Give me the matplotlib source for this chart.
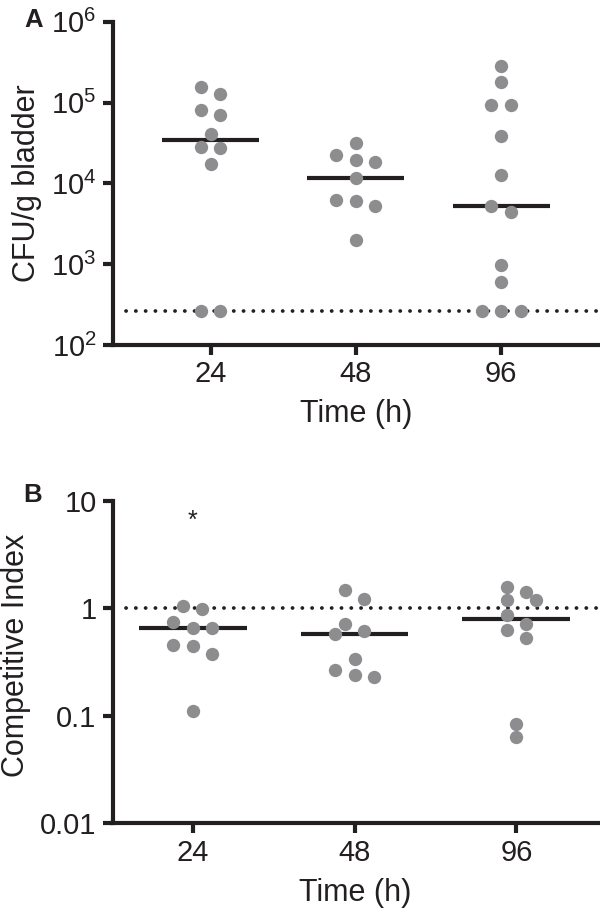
import math
import numpy as np
import matplotlib
matplotlib.use("Agg")
import matplotlib.pyplot as plt
from matplotlib.ticker import FixedLocator, FixedFormatter, NullLocator

# ---------------- data ----------------
hours = ["24", "48", "96"]

cfu_24 = [157000, 129000, 80000, 71000, 41000, 28000, 27700, 17400, 265, 265]
cfu_48 = [31600, 22600, 19400, 18500, 11800, 6300, 6100, 5300, 2000]
cfu_96 = [286000, 178000, 94000, 94000, 39000, 12800, 5300, 4400, 990, 610, 265, 265, 265]
detection_limit = 265

ci_24 = [1.06, 0.99, 0.75, 0.66, 0.65, 0.46, 0.45, 0.376, 0.11]
ci_48 = [1.49, 1.22, 0.72, 0.62, 0.57, 0.338, 0.265, 0.237, 0.228]
ci_96 = [1.59, 1.41, 1.19, 1.19, 0.87, 0.71, 0.63, 0.53, 0.0835, 0.064]
ci_reference = 1

cfu_ticks = [1e2, 1e3, 1e4, 1e5, 1e6]
cfu_ticklabels = [r"$\mathdefault{10^{2}}$", r"$\mathdefault{10^{3}}$", r"$\mathdefault{10^{4}}$",
                  r"$\mathdefault{10^{5}}$", r"$\mathdefault{10^{6}}$"]
ci_ticks = [0.01, 0.1, 1, 10]
ci_ticklabels = ["0.01", "0.1", "1", "10"]
significance_mark = "*"
significance_value = 6.5

# ---------------- style ----------------
plt.rcParams["font.family"] = ["Liberation Sans", "DejaVu Sans"]
plt.rcParams["mathtext.fontset"] = "custom"
plt.rcParams["mathtext.rm"] = "Liberation Sans"
plt.rcParams["mathtext.it"] = "Liberation Sans:italic"
plt.rcParams["mathtext.bf"] = "Liberation Sans:bold"
plt.rcParams["lines.scale_dashes"] = False

INK = "#231f20"
DOT = "#8d8d8f"
SPINE_W = 3.0
TICK_FS = 21
LABEL_FS = 22

fig = plt.figure(figsize=(6.0, 9.14), dpi=100)
axA = fig.add_axes([0.1875, 0.62254, 0.8125, 0.35372])
axB = fig.add_axes([0.1875, 0.09923, 0.80917, 0.35295])


def style_axis(ax):
    for s in ("top", "right"):
        ax.spines[s].set_visible(False)
    for s in ("left", "bottom"):
        ax.spines[s].set_linewidth(SPINE_W)
        ax.spines[s].set_color(INK)
        ax.spines[s].set_capstyle("projecting")
    ax.tick_params(axis="both", which="major", length=7.5, width=SPINE_W,
                   color=INK, labelcolor=INK, labelsize=TICK_FS)
    ax.tick_params(axis="x", pad=3.5)
    ax.tick_params(axis="y", pad=4)
    ax.yaxis.set_minor_locator(NullLocator())
    ax.xaxis.set_minor_locator(NullLocator())


def swarm_x(ax, xc, values, step_px=9.7, row_px=10.0, min_px=12.0):
    trans = ax.transData
    ys = [trans.transform((xc, v))[1] for v in values]
    px_per_x = trans.transform((1, 0))[0] - trans.transform((0, 0))[0]
    order = sorted(range(len(values)), key=lambda i: -ys[i])
    rows = []
    for i in order:
        if rows and abs(ys[rows[-1][0]] - ys[i]) < row_px:
            rows[-1].append(i)
        else:
            rows.append([i])
    placed = []
    slots = [0] * len(values)
    for row in rows:
        n = len(row)
        for k, i in enumerate(row):
            pref = 2 * k - (n - 1)
            cands = sorted(range(-12, 13), key=lambda s: (abs(s - pref), abs(s)))
            chosen = pref
            for s in cands:
                if all(math.hypot((s - ps) * step_px, ys[i] - py) >= min_px for ps, py in placed):
                    chosen = s
                    break
            slots[i] = chosen
            placed.append((chosen, ys[i]))
    return [xc + s * step_px / px_per_x for s in slots]


def draw_panel(ax, groups, ref_value, xlim, ylim, ticks, ticklabels):
    ax.set_yscale("log")
    ax.set_xlim(*xlim)
    ax.set_ylim(*ylim)
    style_axis(ax)
    ax.yaxis.set_major_locator(FixedLocator(ticks))
    ax.yaxis.set_major_formatter(FixedFormatter(ticklabels))
    ax.yaxis.set_minor_locator(NullLocator())
    ax.set_xticks(range(len(hours)))
    ax.set_xticklabels(hours)
    ax.axhline(ref_value, xmin=0.028, xmax=1.0, color=INK, linewidth=2.7,
               linestyle=(0, (0.1, 6.95)), dash_capstyle="round", zorder=1,
               clip_on=False)
    for xc, vals in enumerate(groups):
        med = float(np.median(vals))
        ax.plot([xc - 1 / 3, xc + 1 / 3], [med, med], color=INK, linewidth=3.0,
                solid_capstyle="butt", zorder=2)
        xs = swarm_x(ax, xc, vals)
        ax.plot(xs, vals, linestyle="none", marker="o", markersize=9.6,
                markerfacecolor=DOT, markeredgewidth=0, zorder=3, clip_on=False)


draw_panel(axA, [cfu_24, cfu_48, cfu_96], detection_limit,
           (-0.676, 2.681), (1e2, 1e6), cfu_ticks, cfu_ticklabels)
draw_panel(axB, [ci_24, ci_48, ci_96], ci_reference,
           (-0.495, 2.504), (1e-2, 1e1), ci_ticks, ci_ticklabels)

axB.text(0, significance_value, significance_mark, ha="center", va="center",
         fontsize=18, color=INK)

# labels
W, H = 600.0, 914.0
fig.text(26.8 / W, 1 - 183 / H, "CFU/g bladder", rotation=90, ha="center", va="center",
         fontsize=LABEL_FS, color=INK)
fig.text(16 / W, 1 - 655 / H, "Competitive Index", rotation=90, ha="center", va="center",
         fontsize=LABEL_FS, color=INK)
fig.text(356 / W, 1 - 414 / H, "Time (h)", ha="center", va="center",
         fontsize=LABEL_FS, color=INK)
fig.text(355 / W, 1 - 893 / H, "Time (h)", ha="center", va="center",
         fontsize=LABEL_FS, color=INK)
fig.text(34 / W, 1 - 20 / H, "A", ha="center", va="center", fontsize=18.5,
         fontweight="bold", color=INK)
fig.text(33 / W, 1 - 495 / H, "B", ha="center", va="center", fontsize=18.5,
         fontweight="bold", color=INK)

fig.savefig("out.png", dpi=100)
